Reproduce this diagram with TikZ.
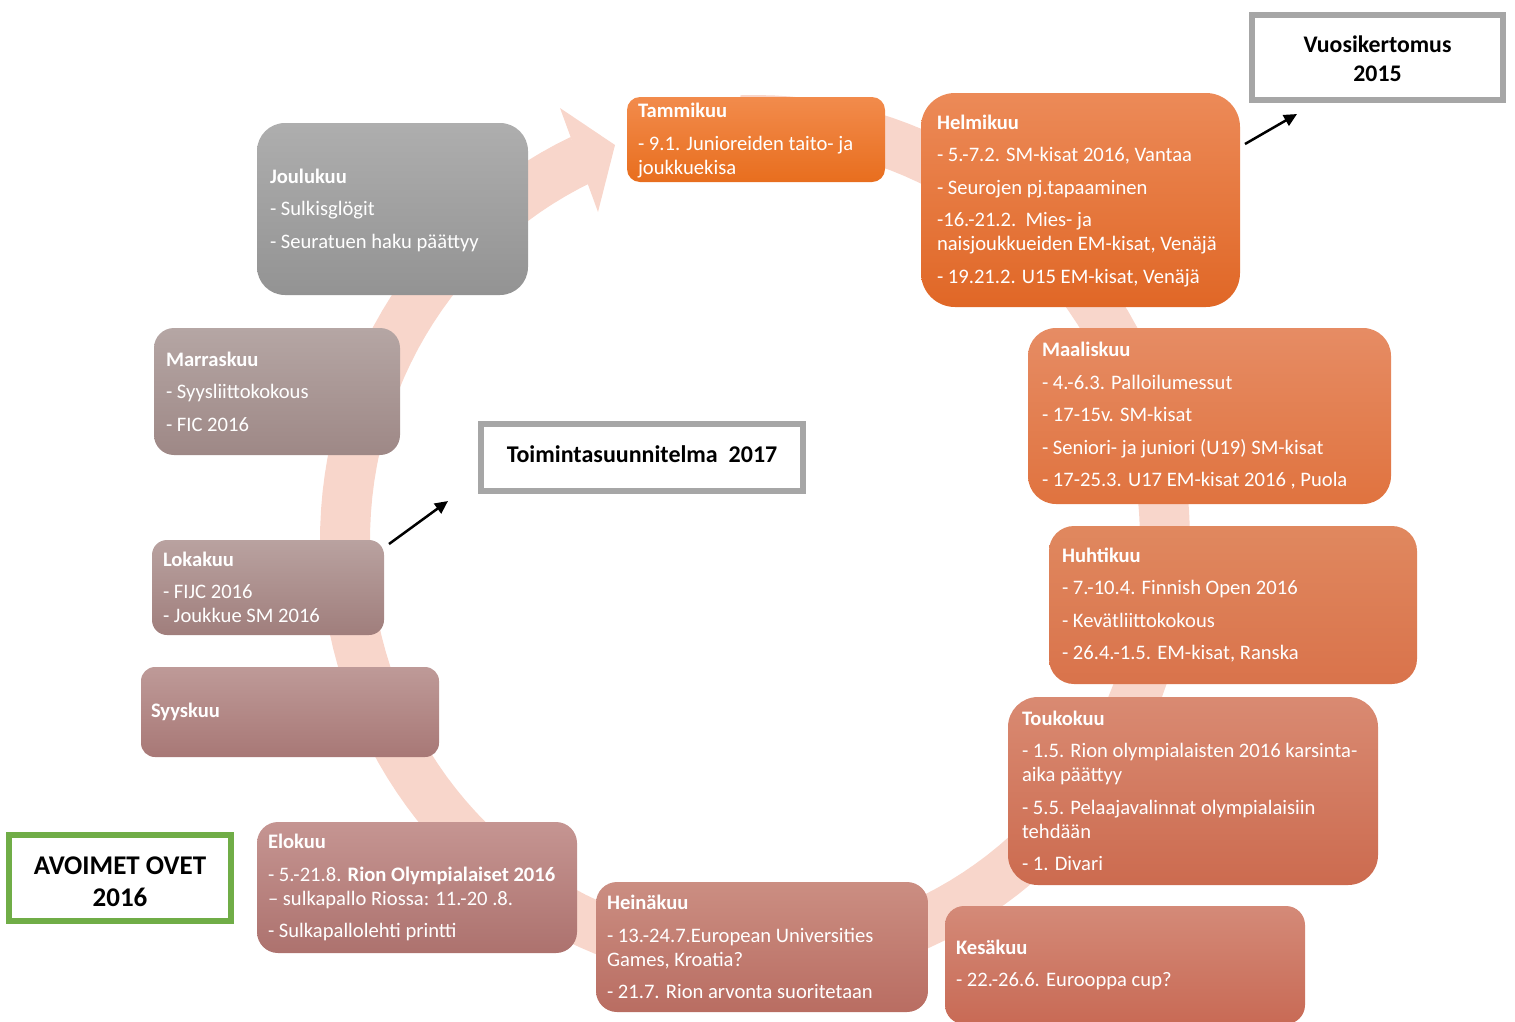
\documentclass[tikz,border=0pt]{standalone}
\usepackage{fontspec}
\setmainfont{Carlito}
\usetikzlibrary{arrows.meta}
\definecolor{ringc}{HTML}{F8D6CB}
\definecolor{framegray}{HTML}{A6A6A6}
\definecolor{framegreen}{HTML}{70AD47}
\begin{document}
\begin{tikzpicture}[x=1pt,y=-1pt,
  mbox/.style={draw=none, inner sep=0pt},
  mtext/.style={text=white, align=left, anchor=west, inner sep=0pt, font=\fontsize{20.6}{24}\selectfont},
  frame/.style={fill=white, line width=6pt, inner sep=0pt},
  frametext/.style={align=center, text=black, inner sep=0pt},
  pointer/.style={-{Triangle[length=13pt,width=12pt]}, line width=2.5pt, black}
]
\useasboundingbox (0,0) rectangle (1515,1021);

% circular arrow in the background
\draw[ringc, line width=50pt] plot[domain=-92:245, samples=150] ({755+410*cos(\x)},{540+420*sin(\x)});
\fill[ringc] (560,108) -- (615,145) -- (598,212) -- cycle;

% month boxes
\node[mbox, rounded corners=13pt, minimum width=258pt, minimum height=85pt, top color={rgb,255:red,242;green,139;blue,76}, bottom color={rgb,255:red,232;green,110;blue,30}] (jan) at (756,139.5) {};
\node[mtext] (jan-t) at ([xshift=11pt,yshift=-1pt]jan.west) {\textbf{Tammikuu}\\[8.5pt]- 9.1. Junioreiden taito- ja\\joukkuekisa};

\node[mbox, rounded corners=34pt, minimum width=319pt, minimum height=214pt, top color={rgb,255:red,236;green,138;blue,88}, bottom color={rgb,255:red,224;green,103;blue,38}] (feb) at (1080.5,200) {};
\node[mtext] (feb-t) at ([xshift=16pt,yshift=-1pt]feb.west) {\textbf{Helmikuu}\\[8.5pt]- 5.-7.2. SM-kisat 2016, Vantaa\\[8.5pt]- Seurojen pj.tapaaminen\\[8.5pt]-16.-21.2.\ \ Mies- ja\\naisjoukkueiden EM-kisat, Venäjä\\[8.5pt]- 19.21.2. U15 EM-kisat, Venäjä};

\node[mbox, rounded corners=28pt, minimum width=363pt, minimum height=176pt, top color={rgb,255:red,230;green,140;blue,100}, bottom color={rgb,255:red,224;green,115;blue,63}] (mar) at (1209.5,416) {};
\node[mtext] (mar-t) at ([xshift=14pt]mar.west) {\textbf{Maaliskuu}\\[8.5pt]- 4.-6.3. Palloilumessut\\[8.5pt]- 17-15v. SM-kisat\\[8.5pt]- Seniori- ja juniori (U19) SM-kisat\\[8.5pt]- 17-25.3. U17 EM-kisat 2016 , Puola};

\node[mbox, rounded corners=25pt, minimum width=368pt, minimum height=158pt, top color={rgb,255:red,224;green,136;blue,95}, bottom color={rgb,255:red,217;green,115;blue,75}] (apr) at (1233,605) {};
\node[mtext] (apr-t) at ([xshift=13pt]apr.west) {\textbf{Huhtikuu}\\[8.5pt]- 7.-10.4. Finnish Open 2016\\[8.5pt]- Kevätliittokokous\\[8.5pt]- 26.4.-1.5. EM-kisat, Ranska};

\node[mbox, rounded corners=30pt, minimum width=370pt, minimum height=188pt, top color={rgb,255:red,217;green,138;blue,114}, bottom color={rgb,255:red,204;green,107;blue,79}] (may) at (1193,791) {};
\node[mtext] (may-t) at ([xshift=14pt]may.west) {\textbf{Toukokuu}\\[8.5pt]- 1.5. Rion olympialaisten 2016 karsinta-\\aika päättyy\\[8.5pt]- 5.5. Pelaajavalinnat olympialaisiin\\tehdään\\[8.5pt]- 1. Divari};

\node[mbox, rounded corners=19pt, minimum width=360pt, minimum height=118pt, top color={rgb,255:red,212;green,138;blue,120}, bottom color={rgb,255:red,200;green,106;blue,85}] (jun) at (1125,965) {};
\node[mtext] (jun-t) at ([xshift=11pt]jun.west) {\textbf{Kesäkuu}\\[8.5pt]- 22.-26.6. Eurooppa cup?};

\node[mbox, rounded corners=21pt, minimum width=332pt, minimum height=130pt, top color={rgb,255:red,203;green,142;blue,130}, bottom color={rgb,255:red,185;green,109;blue,98}] (jul) at (762,947) {};
\node[mtext] (jul-t) at ([xshift=11pt]jul.west) {\textbf{Heinäkuu}\\[8.5pt]- 13.-24.7.European Universities\\Games, Kroatia?\\[8.5pt]- 21.7. Rion arvonta suoritetaan};

\node[mbox, rounded corners=21pt, minimum width=320pt, minimum height=131pt, top color={rgb,255:red,197;green,149;blue,146}, bottom color={rgb,255:red,173;green,114;blue,110}] (aug) at (417,887.5) {};
\node[mtext] (aug-t) at ([xshift=11pt]aug.west) {\textbf{Elokuu}\\[8.5pt]- 5.-21.8. \textbf{Rion Olympialaiset 2016}\\– sulkapallo Riossa: 11.-20 .8.\\[8.5pt]- Sulkapallolehti printti};

\node[mbox, rounded corners=14pt, minimum width=298pt, minimum height=90pt, top color={rgb,255:red,190;green,154;blue,152}, bottom color={rgb,255:red,168;green,120;blue,118}] (sep) at (290,712) {};
\node[mtext] (sep-t) at ([xshift=10pt]sep.west) {\textbf{Syyskuu}};

\node[mbox, rounded corners=15pt, minimum width=232pt, minimum height=95pt, top color={rgb,255:red,185;green,162;blue,160}, bottom color={rgb,255:red,160;green,126;blue,124}] (oct) at (268,587.5) {};
\node[mtext] (oct-t) at ([xshift=11pt]oct.west) {\textbf{Lokakuu}\\[8.5pt]- FIJC 2016\\- Joukkue SM 2016};

\node[mbox, rounded corners=20pt, minimum width=246pt, minimum height=127pt, top color={rgb,255:red,181;green,166;blue,164}, bottom color={rgb,255:red,158;green,136;blue,134}] (nov) at (277,391.5) {};
\node[mtext] (nov-t) at ([xshift=12pt]nov.west) {\textbf{Marraskuu}\\[8.5pt]- Syysliittokokous\\[8.5pt]- FIC 2016};

\node[mbox, rounded corners=28pt, minimum width=271pt, minimum height=172pt, top color={rgb,255:red,174;green,174;blue,174}, bottom color={rgb,255:red,147;green,147;blue,147}] (dec) at (392.5,209) {};
\node[mtext] (dec-t) at ([xshift=13pt,yshift=-1pt]dec.west) {\textbf{Joulukuu}\\[8.5pt]- Sulkisglögit\\[8.5pt]- Seuratuen haku päättyy};

% framed notes
\node[frame, draw=framegray, minimum width=251pt, minimum height=85pt] (report) at (1377.5,57.5) {};
\node[frametext, font=\bfseries\fontsize{23.8}{29.5}\selectfont] (report-t) at ([yshift=-1pt]report.center) {Vuosikertomus\\2015};
\node[frame, draw=framegray, minimum width=322pt, minimum height=67pt] (plan) at (642,457.5) {};
\node[frametext, font=\bfseries\fontsize{24}{29}\selectfont] (plan-t) at ([yshift=3.5pt]plan.center) {Toimintasuunnitelma\ \ 2017};
\node[frame, draw=framegreen, minimum width=222pt, minimum height=86pt] (open) at (120,878) {};
\node[frametext, font=\bfseries\fontsize{27}{32}\selectfont] (open-t) at ([yshift=-3.5pt]open.center) {AVOIMET OVET\\2016};

% pointer arrows
\coordinate (p1s) at (1245,144);
\coordinate (p1e) at (1297,114);
\coordinate (p2s) at (389,544);
\coordinate (p2e) at (448,501);
\draw[pointer] (p1s) -- (p1e);
\draw[pointer] (p2s) -- (p2e);
\end{tikzpicture}
\end{document}
